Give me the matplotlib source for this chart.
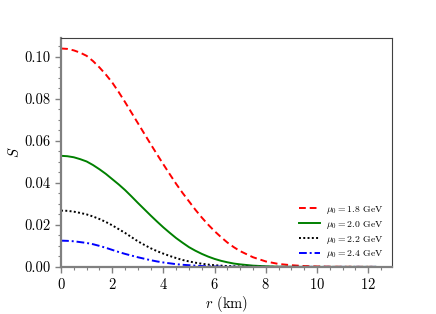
import numpy as np
import matplotlib
matplotlib.use('Agg')
import matplotlib.pyplot as plt
from matplotlib.ticker import MultipleLocator

plt.rcParams['font.family'] = 'cmr10'
plt.rcParams['mathtext.fontset'] = 'cm'
plt.rcParams['axes.formatter.use_mathtext'] = True

# radius grid (km) and S values
r = [0.0, 0.25, 0.5, 0.75, 1.0, 1.25, 1.5, 1.75, 2.0, 2.25, 2.5, 2.75,
     3.0, 3.25, 3.5, 3.75, 4.0, 4.25, 4.5, 4.75, 5.0, 5.25, 5.5, 5.75,
     6.0, 6.25, 6.5, 6.75, 7.0, 7.5, 8.0, 8.5, 9.0, 9.5, 10.0, 10.5, 11.0, 12.3]
s_18 = [0.1040, 0.1038, 0.1031, 0.1020, 0.1005, 0.0980, 0.0950, 0.0916,
        0.0878, 0.0833, 0.0785, 0.0735, 0.0685, 0.0635, 0.0585, 0.0536,
        0.0488, 0.0441, 0.0395, 0.0352, 0.0312, 0.0272, 0.0235, 0.0201,
        0.0170, 0.0142, 0.0116, 0.0094, 0.0075, 0.0046, 0.0026, 0.0014,
        0.0008, 0.0004, 0.0002, 0.0001, 0.00005, 0.0]
s_20 = [0.0529, 0.0527, 0.0522, 0.0513, 0.0502, 0.0485, 0.0465, 0.0443,
        0.0418, 0.0393, 0.0366, 0.0336, 0.0305, 0.0275, 0.0245, 0.0216,
        0.0188, 0.0162, 0.0137, 0.0115, 0.0094, 0.0077, 0.0062, 0.0049,
        0.0038, 0.0029, 0.0022, 0.0016, 0.0012, 0.0006, 0.0003, 0.0001,
        0.00005, 0.0, 0.0, 0.0, 0.0, 0.0]
s_22 = [0.0268, 0.0267, 0.0263, 0.0257, 0.0250, 0.0240, 0.0228, 0.0214,
        0.0198, 0.0180, 0.0162, 0.0142, 0.0122, 0.0105, 0.0089, 0.0075,
        0.0063, 0.0052, 0.0042, 0.0033, 0.0026, 0.0020, 0.0015, 0.0011,
        0.0008, 0.0006, 0.0004, 0.0003, 0.0002, 0.0001, 0.0, 0.0,
        0.0, 0.0, 0.0, 0.0, 0.0, 0.0]
s_24 = [0.0125, 0.0124, 0.0122, 0.0118, 0.0114, 0.0108, 0.0100, 0.0091,
        0.0081, 0.0071, 0.0062, 0.0054, 0.0046, 0.0039, 0.0032, 0.0026,
        0.0021, 0.0017, 0.0013, 0.0010, 0.0008, 0.0006, 0.0004, 0.0003,
        0.0002, 0.00015, 0.0001, 0.00005, 0.0, 0.0, 0.0, 0.0,
        0.0, 0.0, 0.0, 0.0, 0.0, 0.0]
labels = [r'$\mu_0 = 1.8$ GeV', r'$\mu_0 = 2.0$ GeV',
          r'$\mu_0 = 2.2$ GeV', r'$\mu_0 = 2.4$ GeV']

fig = plt.figure(figsize=(4.36, 3.14), dpi=100)
ax = fig.add_axes([0.14, 0.15, 0.759, 0.729])

ax.plot(r, s_18, color='red', ls=(0, (3.5, 2)), lw=1.4, label=labels[0])
ax.plot(r, s_20, color='green', ls='-', lw=1.4, label=labels[1])
ax.plot(r, s_22, color='black', ls=(0, (1, 1.2)), lw=1.4, label=labels[2])
ax.plot(r, s_24, color='blue', ls=(0, (4, 1.5, 1, 1.5)), lw=1.4, label=labels[3])

ax.set_xlim(0, 12.93)
ax.set_ylim(0, 0.109)
ax.xaxis.set_major_locator(MultipleLocator(2))
ax.xaxis.set_minor_locator(MultipleLocator(0.5))
ax.yaxis.set_major_locator(MultipleLocator(0.02))
ax.yaxis.set_minor_locator(MultipleLocator(0.005))
ax.yaxis.set_major_formatter(matplotlib.ticker.FormatStrFormatter('%.2f'))

for side in ['left', 'bottom']:
    ax.spines[side].set_color('#808080')
    ax.spines[side].set_linewidth(1.6)
for side in ['top', 'right']:
    ax.spines[side].set_color('#404040')
    ax.spines[side].set_linewidth(0.8)

ax.tick_params(which='both', direction='out', color='#808080', top=False, right=False,
               labelsize=10.5)
ax.tick_params(which='major', length=4, width=1)
ax.tick_params(which='minor', length=2.5, width=0.8)

ax.set_xlabel(r'$r$ (km)', fontsize=10.5, labelpad=1)
ax.set_ylabel(r'$S$', fontsize=10.5, labelpad=2)

ax.legend(loc='lower right', bbox_to_anchor=(1.0, -0.01), frameon=False,
          fontsize=7, handlelength=2.1, labelspacing=0.3, handletextpad=0.6)

fig.savefig('out.png', dpi=100)
